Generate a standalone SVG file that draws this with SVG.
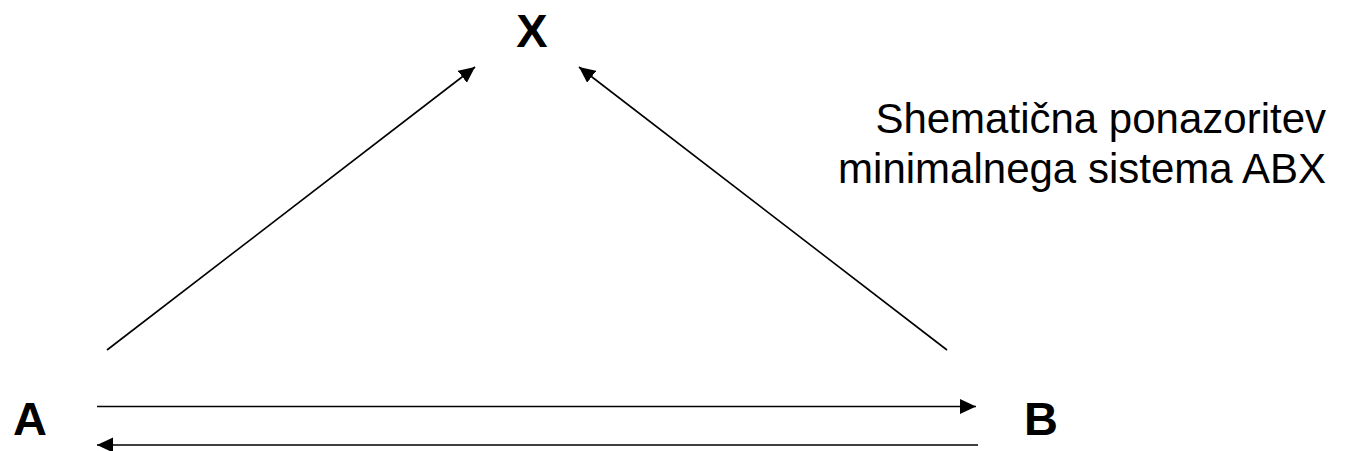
<svg xmlns="http://www.w3.org/2000/svg" width="1350" height="451" viewBox="0 0 1350 451">
<style>
.lbl{font-family:"Liberation Sans",Arial,sans-serif;font-weight:bold;font-size:47px;fill:#000;text-anchor:middle}
.cap{font-family:"Liberation Sans",Arial,sans-serif;font-size:42px;fill:#000;text-anchor:end}
.ln{stroke:#000;stroke-width:1.6;fill:none}
</style>
<defs>
<marker id="ah" markerUnits="userSpaceOnUse" markerWidth="18" markerHeight="16" refX="16" refY="7.5" orient="auto">
<path d="M0,0 L16,7.5 L0,15 Z" fill="#000"/>
</marker>
</defs>
<rect width="1350" height="451" fill="#fff"/>
<g id="connectors">
<line class="ln" x1="107" y1="350" x2="475" y2="67" marker-end="url(#ah)"/>
<line class="ln" x1="947" y1="350" x2="579" y2="67" marker-end="url(#ah)"/>
<line class="ln" x1="97" y1="406.5" x2="976" y2="406.5" marker-end="url(#ah)"/>
<line class="ln" x1="978" y1="445" x2="97" y2="445" marker-end="url(#ah)"/>
</g>
<g id="node-X"><text class="lbl" x="532" y="47">X</text></g>
<g id="node-A"><text class="lbl" x="30" y="435">A</text></g>
<g id="node-B"><text class="lbl" x="1041" y="435">B</text></g>
<g id="caption">
<text class="cap" x="1326" y="133">Shematična ponazoritev</text>
<text class="cap" x="1326" y="183">minimalnega sistema ABX</text>
</g>
</svg>
